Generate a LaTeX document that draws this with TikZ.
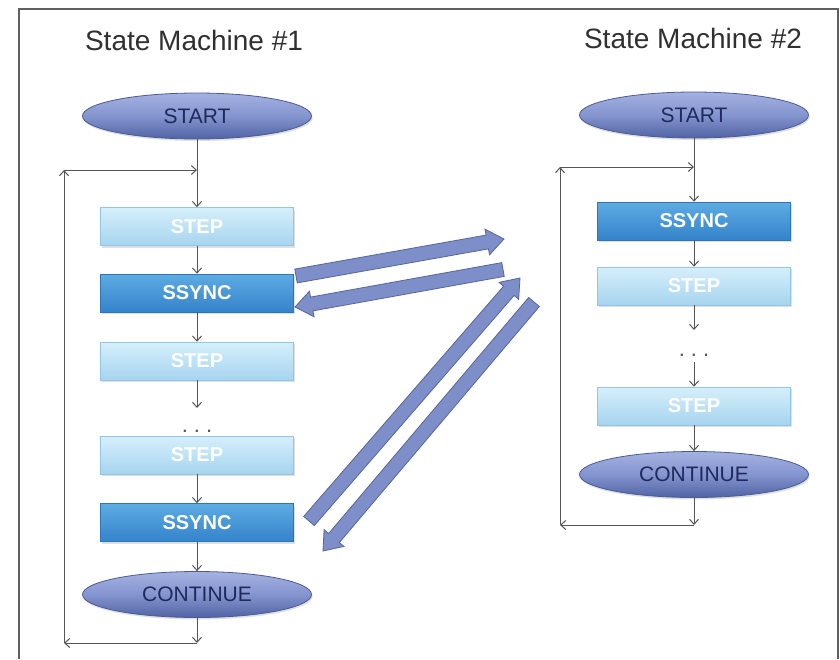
\documentclass[tikz,border=0pt]{standalone}
\usepackage{fontspec}
\setmainfont{Liberation Sans}
\usetikzlibrary{arrows.meta,shapes.geometric,calc,shadows}
\definecolor{linegray}{HTML}{555555}
\definecolor{stepT}{HTML}{D6EFFB}
\definecolor{stepB}{HTML}{A6D4EF}
\definecolor{stepD}{HTML}{93C6E6}
\definecolor{syncT}{HTML}{5DACE3}
\definecolor{syncB}{HTML}{3583CA}
\definecolor{syncD}{HTML}{2E76BA}
\definecolor{ellT}{HTML}{A4B1E0}
\definecolor{ellM}{HTML}{8494CF}
\definecolor{ellB}{HTML}{5163A3}
\definecolor{ellE}{HTML}{4A5B98}
\definecolor{ellTxt}{HTML}{1E2A5C}
\definecolor{barrF}{HTML}{7E8EC8}
\definecolor{barrD}{HTML}{55669E}
\definecolor{framegray}{HTML}{606060}
\definecolor{titletxt}{HTML}{303030}
\newcommand\fatarrow[2]{%
  \path let \p1=($(#2)-(#1)$), \n1={atan2(\y1,\x1)}, \n2={veclen(\x1,\y1)-17pt} in
    [fill=barrF, draw=barrD, line width=0.8pt, line join=miter]
    ($(#1)+(\n1+90:7pt)$) --
    ($(#1)+(\n1:\n2)+(\n1+90:7pt)$) --
    ($(#1)+(\n1:\n2)+(\n1+90:13pt)$) --
    (#2) --
    ($(#1)+(\n1:\n2)+(\n1-90:13pt)$) --
    ($(#1)+(\n1:\n2)+(\n1-90:7pt)$) --
    ($(#1)+(\n1-90:7pt)$) -- cycle;%
}
\begin{document}
\begin{tikzpicture}[x=1pt,y=-1pt,
  conn/.style={draw=linegray, line width=1pt, -{Straight Barb[length=5pt,width=9pt]}},
  stepbox/.style={rectangle, minimum width=193pt, minimum height=38pt, inner sep=0pt,
    top color=stepT, bottom color=stepB, draw=stepD, line width=0.6pt, text=white,
    font=\fontsize{20}{20}\selectfont\bfseries,
    drop shadow={shadow xshift=1pt, shadow yshift=-2pt, opacity=0.25}},
  syncbox/.style={rectangle, minimum width=193pt, minimum height=38pt, inner sep=0pt,
    top color=syncT, bottom color=syncB, draw=syncD, line width=0.6pt, text=white,
    font=\fontsize{20}{20}\selectfont\bfseries,
    drop shadow={shadow xshift=1pt, shadow yshift=-2pt, opacity=0.25}},
  ellnode/.style={ellipse, minimum width=229pt, minimum height=46pt, inner sep=0pt,
    top color=ellT, bottom color=ellB, middle color=ellM, draw=ellE, line width=0.8pt,
    text=ellTxt, font=\fontsize{21}{21}\selectfont,
    drop shadow={shadow xshift=1pt, shadow yshift=-2pt, opacity=0.25}},
  titlestyle/.style={text=titletxt, font=\fontsize{28}{28}\selectfont, inner sep=0pt, anchor=base},
  dotsstyle/.style={text=linegray, font=\fontsize{22}{22}\selectfont, inner sep=0pt, anchor=base}
]
\useasboundingbox (0,0) rectangle (840,659);
\fill[white] (0,0) rectangle (840,659);
% frame
\draw[framegray, line width=1.8pt] (19,659) -- (19,9) -- (838,9) -- (838,659);

% titles
\node[titlestyle] (t1) at (194,50) {State Machine \#1};
\node[titlestyle] (t2) at (693,48) {State Machine \#2};

% ---- State machine 1 ----
\node[ellnode] (s1) at (197,116) {START};
\node[stepbox] (a1) at (197,226.5) {STEP};
\node[syncbox] (a2) at (197,293) {SSYNC};
\node[stepbox] (a3) at (197,361) {STEP};
\node[dotsstyle] (d1) at (197,432) {.\hspace{6pt}.\hspace{6pt}.};
\node[stepbox] (a4) at (197,455) {STEP};
\node[syncbox] (a5) at (197,522.5) {SSYNC};
\node[ellnode] (c1) at (197,594.5) {CONTINUE};

\coordinate (j1) at (197,170);
\coordinate (l1t) at (64,170);
\coordinate (l1b) at (64,643);
\coordinate (b1) at (197,643);
\coordinate (e1) at (197,408);

\draw[conn] (s1.south) -- (a1.north);
\draw[conn] (l1t) -- (j1);
\draw[conn] (a1.south) -- (a2.north);
\draw[conn] (a2.south) -- (a3.north);
\draw[conn] (a3.south) -- (e1);
\draw[conn] (a4.south) -- (a5.north);
\draw[conn] (a5.south) -- (c1.north);
\draw[conn] (c1.south) -- (b1);
\draw[conn] (b1) -- (l1b);
\draw[conn] (l1b) -- (l1t);

% ---- State machine 2 ----
\node[ellnode] (s2) at (694,115) {START};
\node[syncbox] (r1) at (694,221) {SSYNC};
\node[stepbox] (r2) at (694,286) {STEP};
\node[dotsstyle] (d2) at (694,356) {.\hspace{6pt}.\hspace{6pt}.};
\node[stepbox] (r3) at (694,406) {STEP};
\node[ellnode] (c2) at (694,474.5) {CONTINUE};

\coordinate (j2) at (694,167);
\coordinate (l2t) at (560,167);
\coordinate (l2b) at (560,525);
\coordinate (b2) at (694,525);
\coordinate (e2) at (694,330);
\coordinate (g2) at (694,362);

\draw[conn] (s2.south) -- (r1.north);
\draw[conn] (l2t) -- (j2);
\draw[conn] (r1.south) -- (r2.north);
\draw[conn] (r2.south) -- (e2);
\draw[conn] (g2) -- (r3.north);
\draw[conn] (r3.south) -- (c2.north);
\draw[conn] (c2.south) -- (b2);
\draw[conn] (b2) -- (l2b);
\draw[conn] (l2b) -- (l2t);

% ---- block arrows between machines ----
\coordinate (f1t) at (296,276); \coordinate (f1h) at (504,239);
\coordinate (f2t) at (503,269.5); \coordinate (f2h) at (295,307);
\coordinate (f3t) at (309,521); \coordinate (f3h) at (520,278);
\coordinate (f4t) at (534,302); \coordinate (f4h) at (323,551);
\fatarrow{f1t}{f1h}
\fatarrow{f2t}{f2h}
\fatarrow{f3t}{f3h}
\fatarrow{f4t}{f4h}
\end{tikzpicture}
\end{document}
